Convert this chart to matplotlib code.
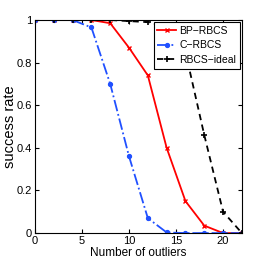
import matplotlib.pyplot as plt
from matplotlib.ticker import FuncFormatter

plt.rcParams['font.family'] = ['Liberation Sans', 'DejaVu Sans']

outliers = [0, 2, 4, 6, 8, 10, 12, 14, 16, 18, 20, 22]
bp_rbcs = [1, 1, 1, 1, 0.985, 0.87, 0.74, 0.40, 0.15, 0.035, 0, 0]
c_rbcs = [1, 1, 1, 0.965, 0.70, 0.36, 0.07, 0.003, 0, 0, 0, 0]
rbcs_ideal = [1, 1, 1, 1, 1, 0.995, 0.99, 0.97, 0.85, 0.46, 0.10, 0]

fig = plt.figure(figsize=(2.67, 2.67), dpi=100)
ax = fig.add_axes([0.131, 0.127, 0.775, 0.798])

ax.plot(outliers, bp_rbcs, color='red', ls='-', lw=1.3, marker='x',
        ms=3, mew=1, label='BP\u2212RBCS')
ax.plot(outliers, c_rbcs, color='#2050ff', ls='-.', lw=1.3, marker='o',
        ms=2.8, label='C\u2212RBCS')
ax.plot(outliers, rbcs_ideal, color='black', ls=(0, (3.5, 2.5)), lw=1.3,
        marker='+', ms=4, mew=1.2, label='RBCS\u2212ideal')

ax.set_xlim(0, 22)
ax.set_ylim(0, 1)
ax.set_xticks([0, 5, 10, 15, 20])
ax.set_yticks([0, 0.2, 0.4, 0.6, 0.8, 1])
ax.yaxis.set_major_formatter(FuncFormatter(lambda v, p: '%g' % v))
ax.tick_params(direction='in', top=True, right=True, labelsize=8,
               length=3, pad=2)
ax.set_xlabel('Number of outliers', fontsize=8.5, labelpad=1)
ax.set_ylabel('success rate', fontsize=10.5, labelpad=0)

leg = ax.legend(loc='upper right', fontsize=7.5, handlelength=1.8,
                borderpad=0.35, labelspacing=0.45, handletextpad=0.3,
                fancybox=False, framealpha=1, borderaxespad=0.2)
leg.get_frame().set_edgecolor('black')
leg.get_frame().set_linewidth(0.8)

fig.savefig('out.png', dpi=100)
